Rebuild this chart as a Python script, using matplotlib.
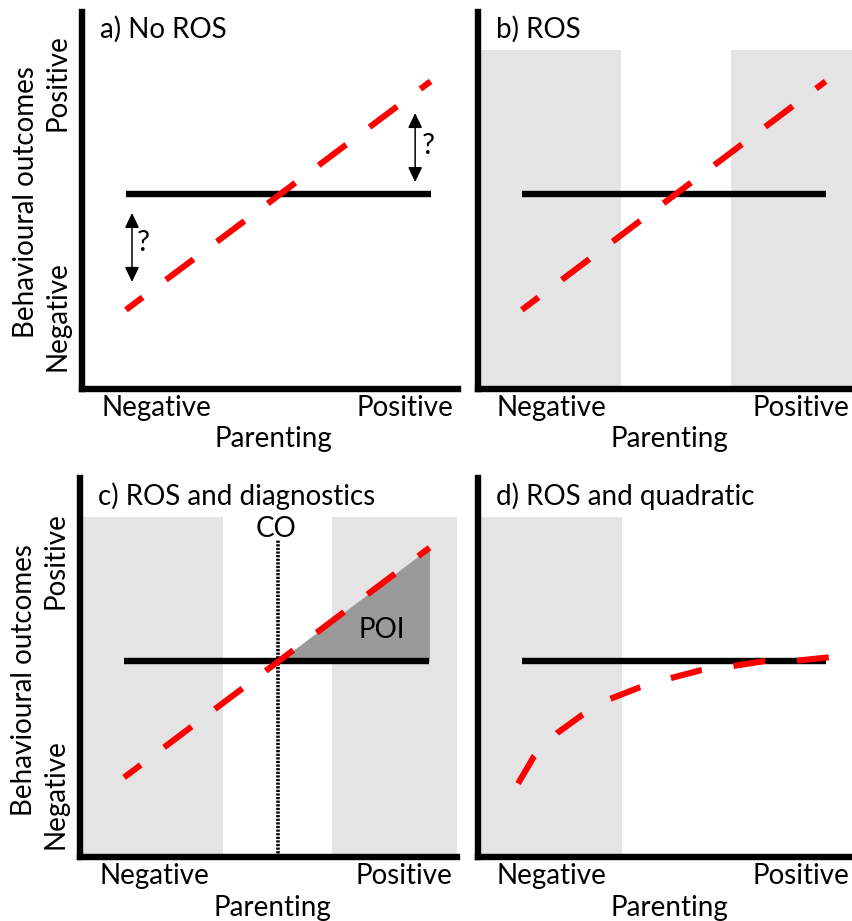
import matplotlib
matplotlib.use("Agg")
import matplotlib.pyplot as plt
from matplotlib.patches import FancyArrowPatch

plt.rcParams['font.family'] = ['Lato', 'DejaVu Sans']
plt.rcParams['lines.scale_dashes'] = False

FIG_W, FIG_H = 853, 921

# ---- labels ----
panel_titles = ['a) No ROS', 'b) ROS', 'c) ROS and diagnostics', 'd) ROS and quadratic']
x_end_labels = ['Negative', 'Positive']
x_end_pos = [1.97, 8.6]
x_title = 'Parenting'
y_title = 'Behavioural outcomes'
y_end_labels = ['Negative', 'Positive']

# ---- lines (parenting on x, outcome on y, both on a 0-10 scale) ----
flat_x = [1.17, 9.27]
flat_y = [5.16, 5.16]
linear_x = [1.17, 9.27]
linear_y = [2.10, 8.16]

quad_x = [1.07, 1.49, 2.11, 2.78, 3.52, 4.32, 5.14, 5.95, 6.81, 7.65, 8.50, 9.37]
quad_y = [1.94, 2.65, 3.27, 3.75, 4.17, 4.48, 4.72, 4.93, 5.04, 5.17, 5.18, 5.27]

# regions of significance (shaded parenting ranges)
ros_b = [(0.0, 3.81), (6.75, 10.0)]
ros_c = [(0.0, 3.79), (6.68, 10.0)]
ros_d = [(0.0, 3.84)]
ros_top = 8.98

# panel a: double arrows marking the open question
arrow_x = [1.33, 8.86]
arrow_lo = [2.84, 5.49]
arrow_hi = [4.67, 7.32]
qmark_x = [1.63, 9.21]
qmark_y = [3.86, 6.45]

# axes boxes in pixels: left, right, top, bottom
boxes = [(82, 458, 12, 389), (478, 853, 12, 389),
         (80, 457, 478, 857), (478, 853, 478, 857)]

RED = '#ff0000'
LIGHT = '#e4e4e4'
POI_GREY = '#9a9a9a'
FS = 20

fig = plt.figure(figsize=(FIG_W / 100, FIG_H / 100), dpi=100)


def make_axes(box):
    l, r, t, b = box
    ax = fig.add_axes([l / FIG_W, 1 - b / FIG_H, (r - l) / FIG_W, (b - t) / FIG_H])
    ax.set_xlim(0, 10)
    ax.set_ylim(0, 10)
    ax.set_xticks([])
    ax.set_yticks([])
    for s in ('top', 'right'):
        ax.spines[s].set_visible(False)
    for s in ('left', 'bottom'):
        ax.spines[s].set_linewidth(4.6)
        ax.spines[s].set_color('black')
        ax.spines[s].set_zorder(10)
    ax.patch.set_alpha(0)
    return ax


def decorate(ax, title, title_base, with_y, y_pos_c, y_neg_c, y_title_c):
    ax.text(0.48, title_base, title, fontsize=FS, ha='left', va='baseline')
    for lab, xp in zip(x_end_labels, x_end_pos):
        ax.text(xp, -0.72, lab, fontsize=FS, ha='center', va='baseline')
    ax.text(5.1, -1.55, x_title, fontsize=FS, ha='center', va='baseline')
    if with_y:
        kw = dict(fontsize=FS, rotation=90, rotation_mode='anchor', ha='center', va='baseline')
        ax.text(-0.43, y_neg_c, y_end_labels[0], **kw)
        ax.text(-0.43, y_pos_c, y_end_labels[1], **kw)
        ax.text(-1.28, y_title_c, y_title, **kw)


def shade(ax, regions):
    for x0, x1 in regions:
        ax.fill_between([x0, x1], 0, ros_top, color=LIGHT, lw=0, zorder=0)


def draw_lines(ax, red_x, red_y, dashes, offset):
    ax.plot(flat_x, flat_y, color='black', lw=4.6, solid_capstyle='butt', zorder=3)
    ax.plot(red_x, red_y, color=RED, lw=4.4, linestyle=(offset, dashes),
            dash_capstyle='butt', zorder=5)


LIN_DASH = (24.8, 21.0)
LIN_OFF = 9.8

# a) No ROS
ax = make_axes(boxes[0])
draw_lines(ax, linear_x, linear_y, LIN_DASH, LIN_OFF)
for xa, lo, hi, qx, qy in zip(arrow_x, arrow_lo, arrow_hi, qmark_x, qmark_y):
    ax.add_patch(FancyArrowPatch((xa, lo), (xa, hi),
                                 arrowstyle='<|-|>,head_length=9,head_width=4.3',
                                 mutation_scale=1, lw=1.1, color='black',
                                 shrinkA=0, shrinkB=0, zorder=4))
    ax.text(qx, qy, '?', fontsize=21, ha='center', va='center')
decorate(ax, panel_titles[0], 9.32, True, 8.13, 1.94, 4.97)

# b) ROS
ax = make_axes(boxes[1])
shade(ax, ros_b)
draw_lines(ax, linear_x, linear_y, LIN_DASH, LIN_OFF)
decorate(ax, panel_titles[1], 9.32, False, 0, 0, 0)

# c) ROS and diagnostics
ax = make_axes(boxes[2])
shade(ax, ros_c)
slope = (linear_y[1] - linear_y[0]) / (linear_x[1] - linear_x[0])
co_x = linear_x[0] + (flat_y[0] - linear_y[0]) / slope
ax.fill_between([co_x, linear_x[1]], [flat_y[0], flat_y[1]], [flat_y[0], linear_y[1]],
                color=POI_GREY, lw=0, zorder=1)
ax.plot([co_x, co_x], [0, 8.36], color='black', lw=2.6, linestyle=(0, (1.6, 1.0)),
        dash_capstyle='butt', zorder=4)
draw_lines(ax, linear_x, linear_y, LIN_DASH, LIN_OFF)
ax.text(co_x - 0.05, 8.44, 'CO', fontsize=FS, ha='center', va='baseline')
ax.text(8.01, 5.78, 'POI', fontsize=FS, ha='center', va='baseline')
decorate(ax, panel_titles[2], 9.29, True, 7.82, 1.66, 4.67)

# d) ROS and quadratic
ax = make_axes(boxes[3])
shade(ax, ros_d)
draw_lines(ax, quad_x, quad_y, (23.0, 23.0), 0.0)
decorate(ax, panel_titles[3], 9.29, False, 0, 0, 0)

fig.savefig('out.png', dpi=100)
